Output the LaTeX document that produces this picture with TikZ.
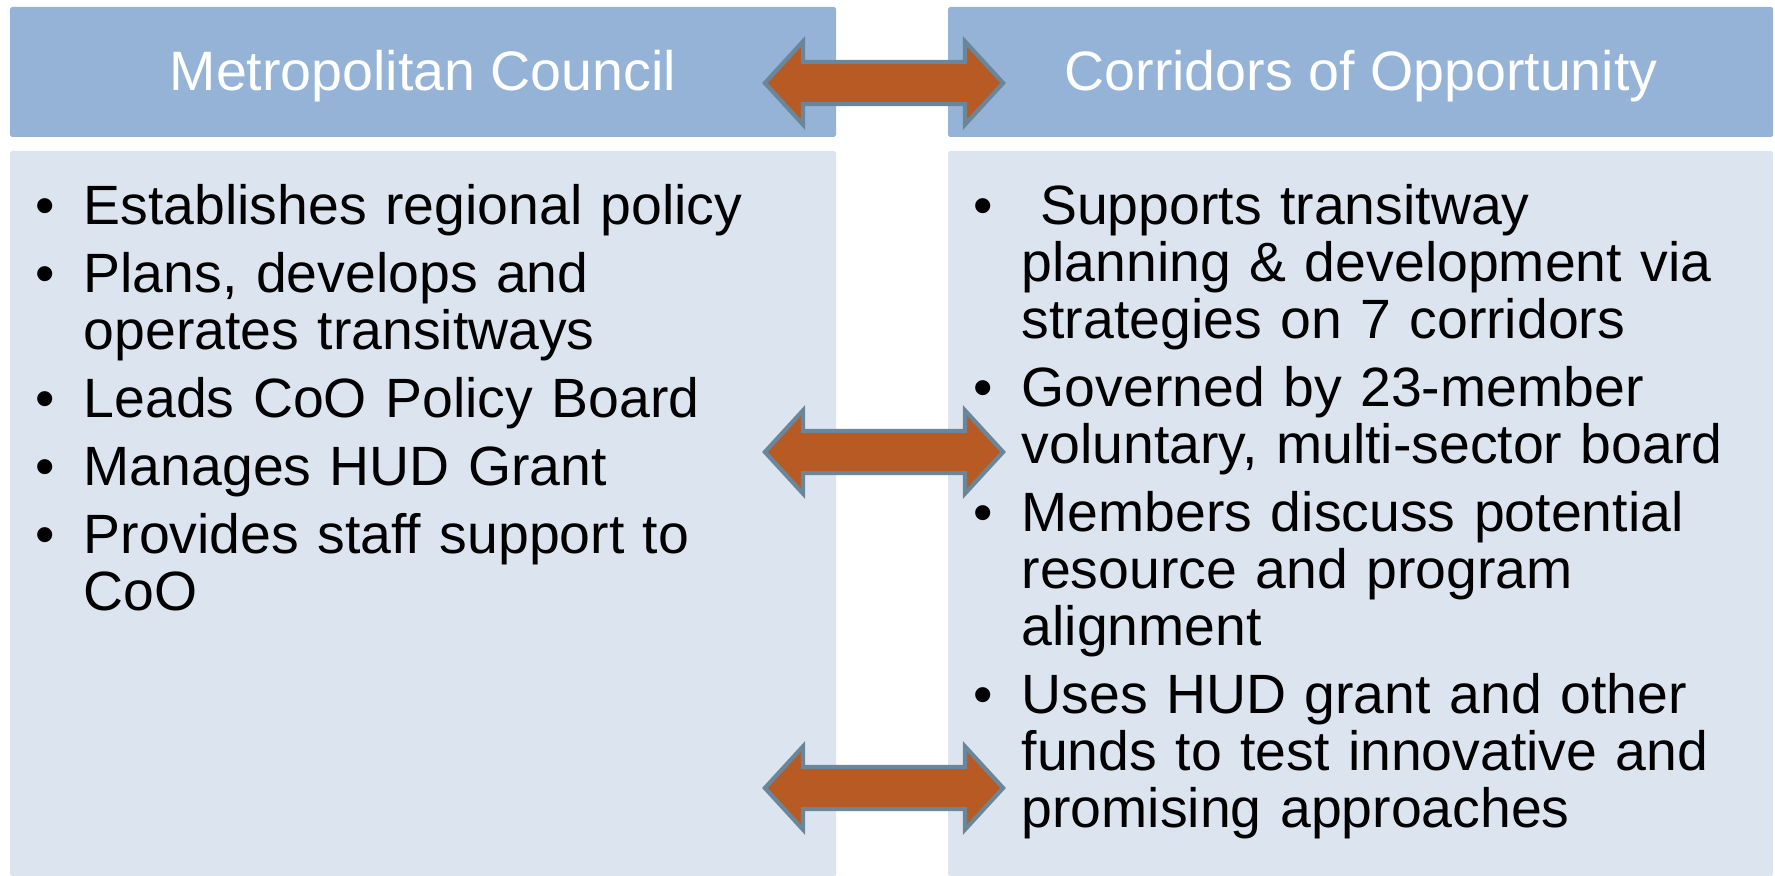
\documentclass[tikz,border=0pt]{standalone}
\usepackage{fontspec}
\setmainfont{Liberation Sans}
\usetikzlibrary{shapes.arrows}

\definecolor{headblue}{HTML}{95B3D7}
\definecolor{bodyblue}{HTML}{DCE5EF}
\definecolor{linkorange}{HTML}{B85A23}
\definecolor{linkedge}{HTML}{6A869B}

% bullet with hanging indent
\newcommand{\bul}{\hangindent=0.48cm\hangafter=1\makebox[0.48cm][l]{\textbullet}}

\tikzset{
  headbox/.style={fill=headblue, rounded corners=0.5pt},
  bodybox/.style={fill=bodyblue, rounded corners=0.5pt},
  headtext/.style={anchor=base, text=white, inner sep=0pt, font=\fontsize{15.8pt}{18pt}\selectfont},
  itemlist/.style={anchor=base west, inner sep=0pt, text width=7.9cm, align=left,
    font=\fontsize{15.75pt}{16.2pt}\selectfont, execute at begin node={\setlength{\parskip}{3.1pt}}},
  link/.style={double arrow, draw=linkedge, line width=1.2pt, fill=linkorange,
    inner xsep=0pt, inner ysep=0.19cm, minimum width=1pt, minimum height=2.38cm,
    double arrow head extend=0.205cm, double arrow tip angle=95}
}

\begin{document}
\begin{tikzpicture}[x=0.01cm, y=-0.01cm]
        \useasboundingbox (0,0) rectangle (1775,876);
        % the two columns
        \path[headbox] (10,7) rectangle (836,137);
        \path[headbox] (948,7) rectangle (1773,137);
        \path[bodybox] (10,151) rectangle (836,876);
        \path[bodybox] (948,151) rectangle (1773,876);
        \node[headtext] (mctitle) at (423,91) {Metropolitan Council};
        \node[headtext] (cootitle) at (1361,91) {Corridors of Opportunity};
        \node[itemlist] (mclist) at (35,225) {%
          \bul Establishes regional policy\par
          \bul Plans, develops and\newline operates transitways\par
          \bul Leads CoO Policy Board\par
          \bul Manages HUD Grant\par
          \bul Provides staff support to\newline CoO\par};
        \node[itemlist] (coolist) at (973,225) {%
          \bul\ Supports transitway\newline planning \& development via\newline strategies on 7 corridors\par
          \bul Governed by 23-member\newline voluntary, multi-sector board\par
          \bul Members discuss potential\newline resource and program\newline alignment\par
          \bul Uses HUD grant and other\newline funds to test innovative and\newline promising approaches\par};
        % links between the columns
        \node[link] (toplink) at (884,83) {};
        \node[link] (midlink) at (884,452) {};
        \node[link] (botlink) at (884,788) {};
\end{tikzpicture}
\end{document}
